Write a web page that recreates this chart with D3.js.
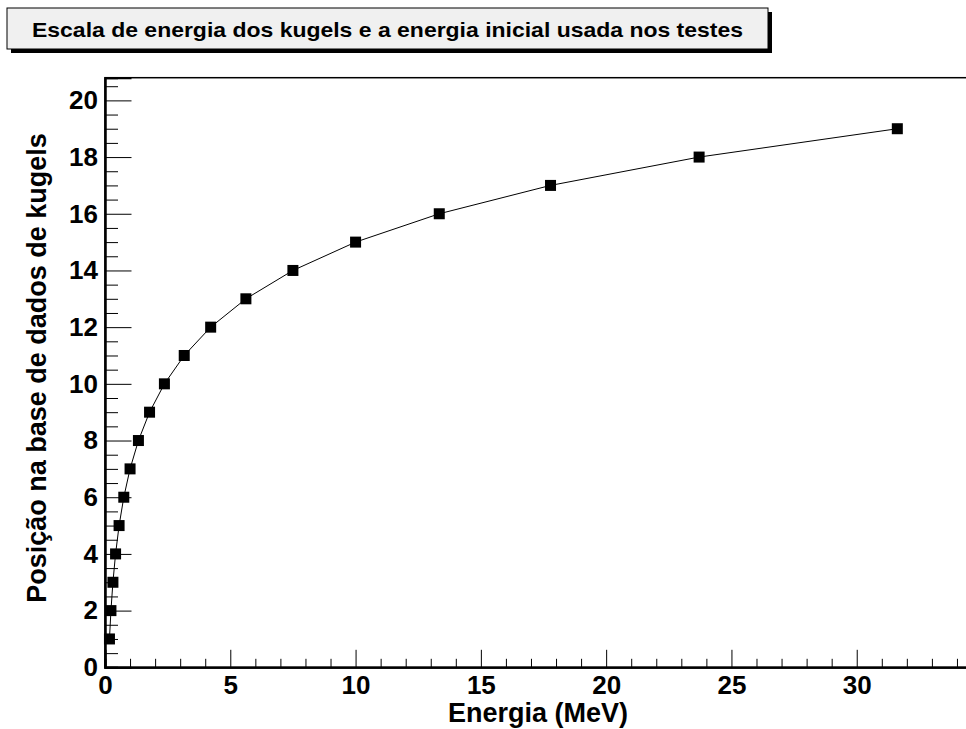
<!DOCTYPE html>
<html>
<head>
<meta charset="utf-8">
<script src="https://cdn.jsdelivr.net/npm/d3@7"></script>
<style>
  body { margin: 0; background: #fff; }
  text { font-family: "Liberation Sans", Arial, Helvetica, sans-serif; font-weight: bold; }
</style>
</head>
<body>
<div id="chart"></div>
<script>
// energia inicial (MeV) de cada posicao na base de dados
const energias = [0.178, 0.237, 0.316, 0.422, 0.562, 0.750, 1.000, 1.334, 1.778, 2.371,
                  3.162, 4.217, 5.623, 7.499, 10.00, 13.34, 17.78, 23.71, 31.62];
const posicoes = [1, 2, 3, 4, 5, 6, 7, 8, 9, 10, 11, 12, 13, 14, 15, 16, 17, 18, 19];

const xMajor = [0, 5, 10, 15, 20, 25, 30];
const yMajor = [0, 2, 4, 6, 8, 10, 12, 14, 16, 18, 20];

const titulo = 'Escala de energia dos kugels e a energia inicial usada nos testes';
const xTitulo = 'Energia (MeV)';
const yTitulo = 'Posição na base de dados de kugels';

const W = 966, H = 729;
const frame = {left: 105, right: 976, top: 77.7, bottom: 667.3};

const svg = d3.select('#chart')
  .append('svg')
  .attr('width', W)
  .attr('height', H);

const x = d3.scaleLinear().domain([0, 34.76]).range([frame.left, frame.right]);
const y = d3.scaleLinear().domain([0, 20.8]).range([frame.bottom, frame.top]);

const xMinor = d3.range(1, 35).filter(v => v % 5 !== 0);
const yMinor = d3.range(0.5, 20.6, 0.5).filter(v => v % 2 !== 0);

// frame
svg.append('rect')
  .attr('x', frame.left)
  .attr('y', frame.top)
  .attr('width', frame.right - frame.left)
  .attr('height', frame.bottom - frame.top)
  .attr('fill', 'none')
  .attr('stroke', '#000')
  .attr('stroke-width', 1.5);

// x axis
const xAxisG = svg.append('g').attr('transform', `translate(0,${frame.bottom})`);
xAxisG.call(d3.axisBottom(x).tickValues(xMajor).tickSize(-17.5).tickPadding(8).tickFormat(d3.format('d')));
xAxisG.append('g').call(d3.axisBottom(x).tickValues(xMinor).tickSize(-8.5).tickFormat(''));

// y axis
const yAxisG = svg.append('g').attr('transform', `translate(${frame.left},0)`);
yAxisG.call(d3.axisLeft(y).tickValues(yMajor).tickSize(-26.5).tickPadding(7).tickFormat(d3.format('d')));
yAxisG.append('g').call(d3.axisLeft(y).tickValues(yMinor).tickSize(-13).tickFormat(''));

svg.selectAll('.domain').attr('stroke', '#000').attr('stroke-width', 2);
svg.selectAll('.tick line').attr('stroke', '#000').attr('stroke-width', 1);
svg.selectAll('.tick text')
  .attr('fill', '#000')
  .style('font-size', '26px');

// axis titles
svg.append('text')
  .attr('x', 538)
  .attr('y', 721.5)
  .attr('text-anchor', 'middle')
  .style('font-size', '27px')
  .text(xTitulo);

svg.append('text')
  .attr('transform', 'translate(46,368) rotate(-90)')
  .attr('text-anchor', 'middle')
  .style('font-size', '27px')
  .text(yTitulo);

// graph
const pontos = energias.map((e, i) => [e, posicoes[i]]);

const line = d3.line().x(d => x(d[0])).y(d => y(d[1]));

svg.append('path')
  .attr('d', line(pontos))
  .attr('fill', 'none')
  .attr('stroke', '#000')
  .attr('stroke-width', 1);

const ms = 11;
svg.selectAll('.marker')
  .data(pontos)
  .enter()
  .append('rect')
  .attr('class', 'marker')
  .attr('x', d => x(d[0]) - ms / 2)
  .attr('y', d => y(d[1]) - ms / 2)
  .attr('width', ms)
  .attr('height', ms)
  .attr('fill', '#000');

// title box with shadow
const box = {x: 7, y: 8, w: 761, h: 41};
svg.append('rect')
  .attr('x', box.x + 4)
  .attr('y', box.y + 4)
  .attr('width', box.w)
  .attr('height', box.h)
  .attr('fill', '#000');
svg.append('rect')
  .attr('x', box.x)
  .attr('y', box.y)
  .attr('width', box.w)
  .attr('height', box.h)
  .attr('fill', '#f0f0f0')
  .attr('stroke', '#000')
  .attr('stroke-width', 1);
svg.append('text')
  .attr('x', box.x + box.w / 2)
  .attr('y', 37.3)
  .attr('text-anchor', 'middle')
  .attr('textLength', 711)
  .attr('lengthAdjust', 'spacingAndGlyphs')
  .style('font-size', '21px')
  .text(titulo);
</script>
</body>
</html>
